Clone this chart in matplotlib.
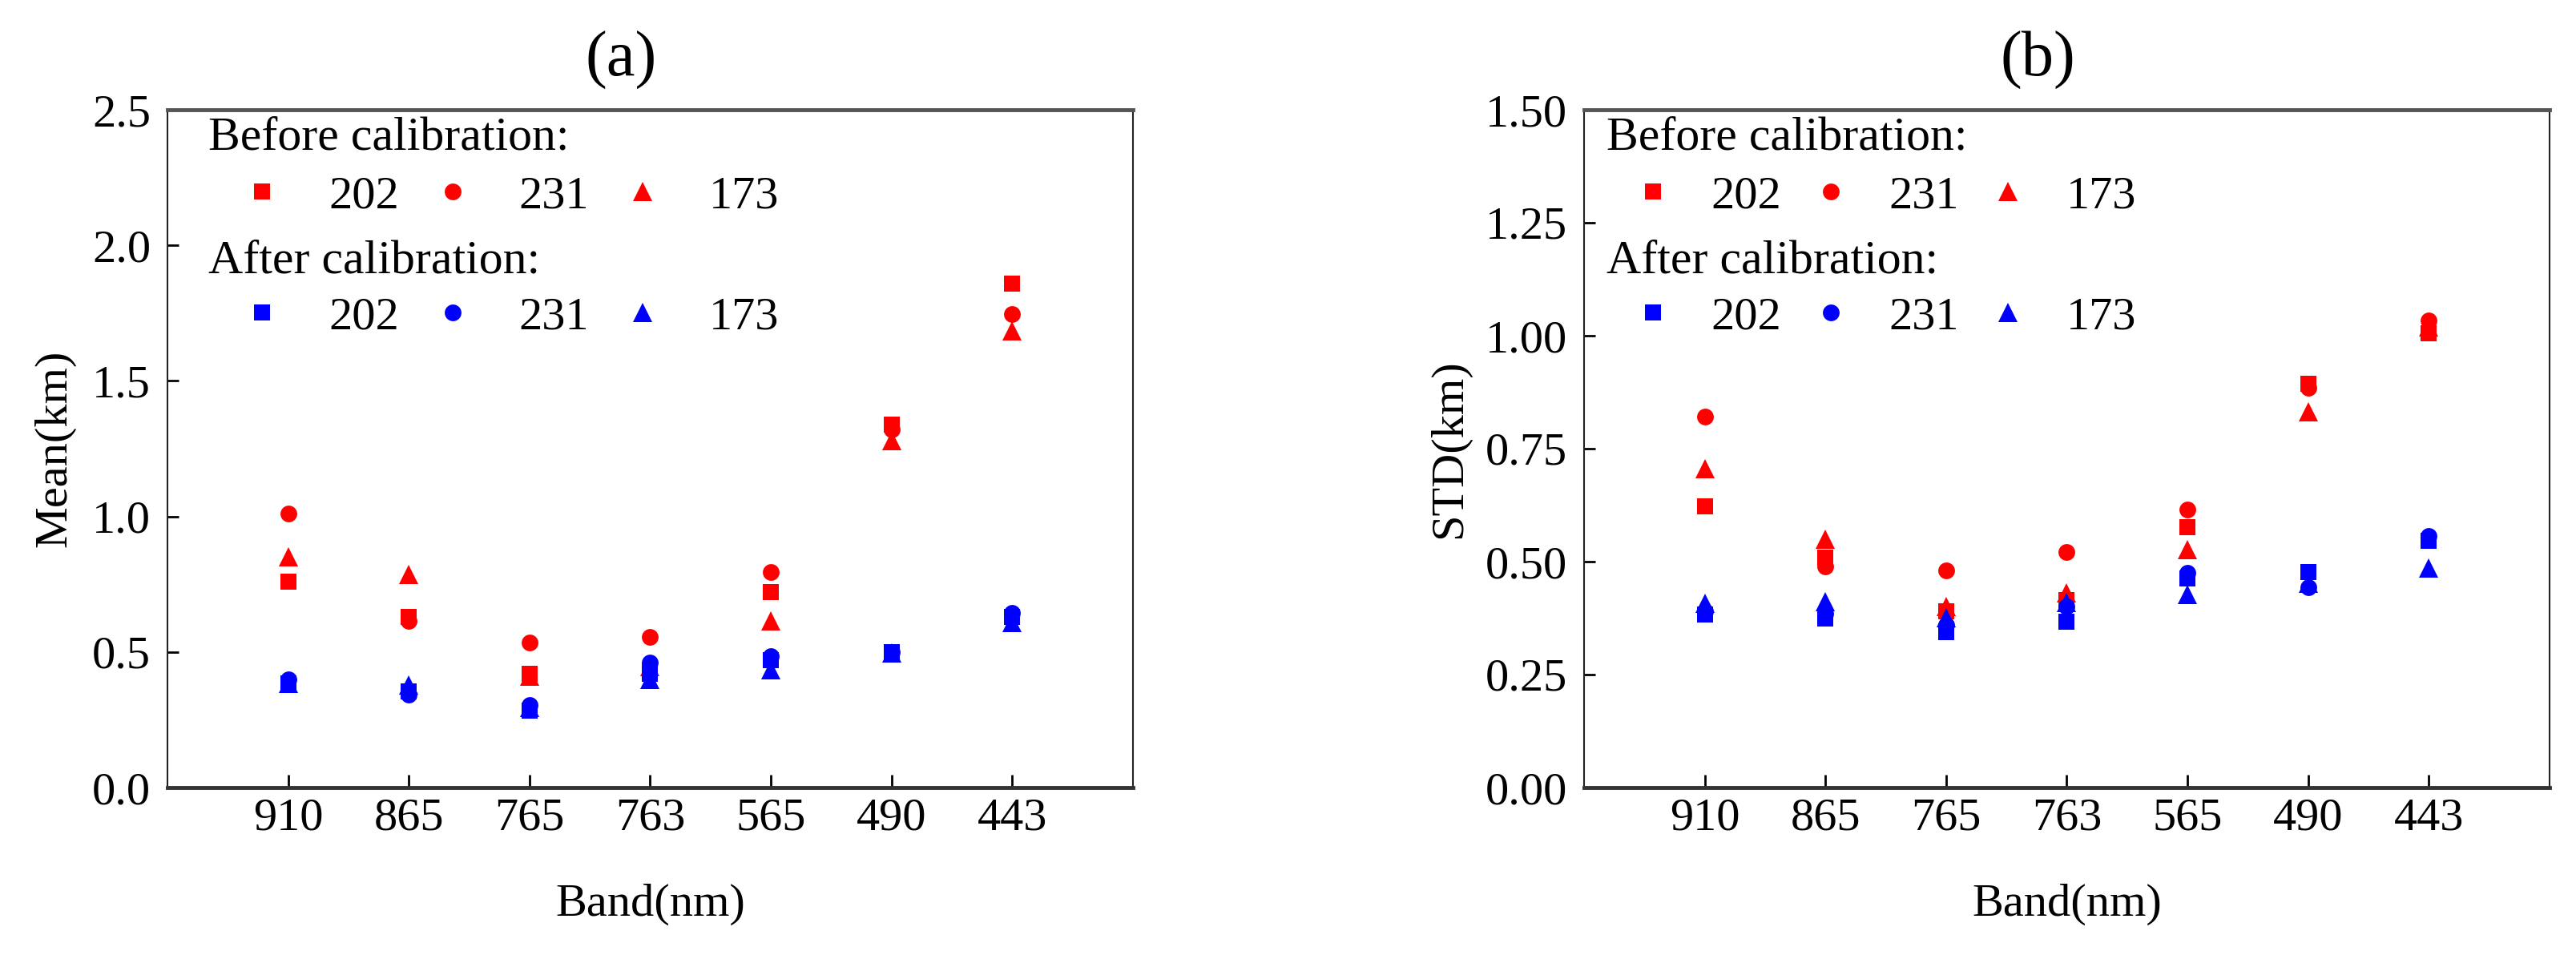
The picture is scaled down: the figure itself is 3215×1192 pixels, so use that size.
import numpy as np
import matplotlib
matplotlib.use('Agg')
import matplotlib.pyplot as plt
from matplotlib.ticker import FormatStrFormatter

plt.rcParams['font.family'] = ['Liberation Serif', 'DejaVu Serif']

bands = ['910', '865', '765', '763', '565', '490', '443']
cams = ['202', '231', '173']

# mean (km) before / after calibration
mean_before_202 = [0.76, 0.63, 0.42, 0.43, 0.72, 1.34, 1.86]
mean_before_231 = [1.01, 0.615, 0.535, 0.555, 0.795, 1.32, 1.745]
mean_before_173 = [0.85, 0.785, 0.41, 0.445, 0.615, 1.28, 1.685]
mean_after_202 = [0.385, 0.355, 0.285, 0.42, 0.47, 0.50, 0.63]
mean_after_231 = [0.40, 0.342, 0.305, 0.46, 0.485, 0.50, 0.645]
mean_after_173 = [0.383, 0.378, 0.295, 0.40, 0.435, 0.495, 0.61]

# std (km) before / after calibration
std_before_202 = [0.623, 0.508, 0.39, 0.415, 0.577, 0.894, 1.005]
std_before_231 = [0.821, 0.489, 0.480, 0.521, 0.615, 0.885, 1.033]
std_before_173 = [0.706, 0.550, 0.401, 0.431, 0.527, 0.832, 1.02]
std_after_202 = [0.383, 0.375, 0.344, 0.367, 0.463, 0.477, 0.546]
std_after_231 = [0.39, 0.385, 0.36, 0.40, 0.475, 0.443, 0.556]
std_after_173 = [0.408, 0.412, 0.376, 0.41, 0.428, 0.452, 0.486]

markers = ['s', 'o', '^']
msizes = [14, 15, 17.5]

x = np.arange(1, len(bands) + 1)

fig = plt.figure(figsize=(32.16, 11.92), dpi=100)
ax1 = fig.add_axes([209 / 3216, 209 / 1192, 1205 / 3216, 846 / 1192])
ax2 = fig.add_axes([1977 / 3216, 209 / 1192, 1205 / 3216, 846 / 1192])


def draw(ax, before, after, ylim, yticks, fmt, ylabel, title, ylab_x,
         leg_x, hdr_x, tpad, cspace):
    red_h, blue_h = [], []
    for vals, m, ms in zip(before, markers, msizes):
        h, = ax.plot(x, vals, ls='none', marker=m, ms=ms, color='#ff0000', mew=0)
        red_h.append(h)
    for vals, m, ms in zip(after, markers, msizes):
        h, = ax.plot(x, vals, ls='none', marker=m, ms=ms, color='#0000ff', mew=0)
        blue_h.append(h)

    ax.set_xlim(0, 8)
    ax.set_ylim(*ylim)
    ax.set_xticks(x)
    ax.set_xticklabels(bands)
    ax.set_yticks(yticks)
    ax.yaxis.set_major_formatter(FormatStrFormatter(fmt))
    ax.tick_params(axis='both', direction='in', labelsize=42, width=2,
                   top=False, right=False)
    ax.tick_params(axis='x', length=11.5, pad=9)
    ax.tick_params(axis='y', length=10, pad=15)

    for s in ['left', 'right']:
        ax.spines[s].set_linewidth(1.5)
        ax.spines[s].set_color('#222222')
    ax.spines['top'].set_linewidth(3.5)
    ax.spines['top'].set_color('#555555')
    ax.spines['bottom'].set_linewidth(3.5)
    ax.spines['bottom'].set_color('#333333')

    ax.set_xlabel('Band(nm)', fontsize=42)
    ax.xaxis.set_label_coords(0.5, -0.142)
    ax.set_ylabel(ylabel, fontsize=42)
    ax.yaxis.set_label_coords(ylab_x, 0.5)
    ax.text(0.47, 1.073, title, transform=ax.transAxes, fontsize=58,
            ha='center', va='center')

    ax.text(hdr_x, 0.941, 'Before calibration:', transform=ax.transAxes,
            fontsize=43, ha='left', va='baseline')
    ax.text(hdr_x, 0.759, 'After calibration:', transform=ax.transAxes,
            fontsize=43, ha='left', va='baseline')

    kw = dict(ncol=3, frameon=False, fontsize=42, loc='center left',
              numpoints=1, handlelength=1.0, handletextpad=tpad,
              columnspacing=cspace, borderpad=0, borderaxespad=0)
    leg1 = ax.legend(red_h, cams, bbox_to_anchor=(leg_x, 0.872), **kw)
    ax.add_artist(leg1)
    ax.legend(blue_h, cams, bbox_to_anchor=(leg_x, 0.694), **kw)


draw(ax1,
     [mean_before_202, mean_before_231, mean_before_173],
     [mean_after_202, mean_after_231, mean_after_173],
     (0, 2.5), [0, 0.5, 1.0, 1.5, 2.0, 2.5], '%.1f', 'Mean(km)', '(a)',
     -0.095, 0.074, 0.042, 0.92, 0.65)
draw(ax2,
     [std_before_202, std_before_231, std_before_173],
     [std_after_202, std_after_231, std_after_173],
     (0, 1.5), [0, 0.25, 0.5, 0.75, 1.0, 1.25, 1.5], '%.2f', 'STD(km)', '(b)',
     -0.118, 0.047, 0.023, 0.75, 0.55)

fig.savefig('out.png', dpi=100)
